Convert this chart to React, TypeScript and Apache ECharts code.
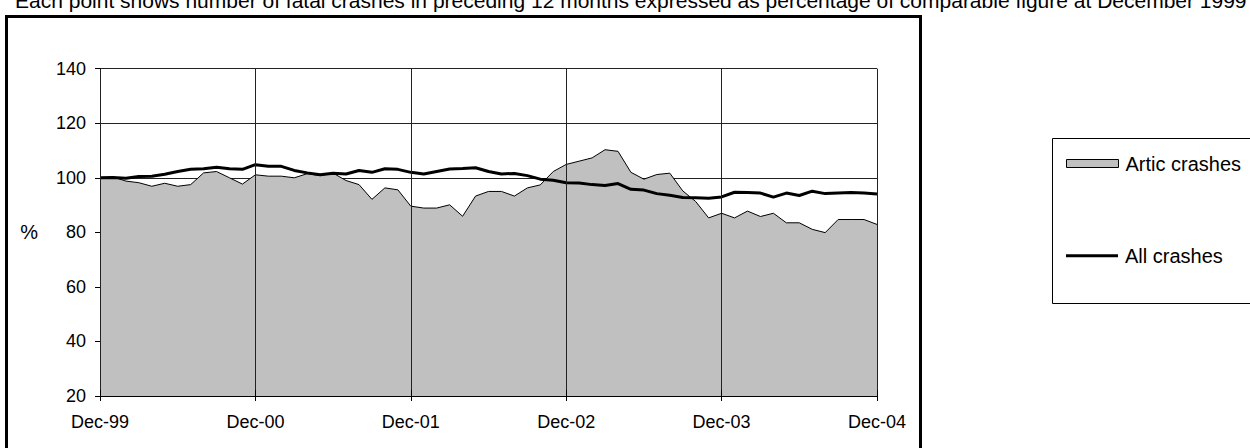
import React, { useEffect, useRef } from "react";
import * as echarts from "echarts";

const months = ["Dec","Jan","Feb","Mar","Apr","May","Jun","Jul","Aug","Sep","Oct","Nov"];
const startYear = 99;
const categories: string[] = [];
for (let i = 0; i <= 60; i++) {
  const m = i % 12;
  const y = (startYear + Math.floor((i + 11) / 12)) % 100;
  categories.push(`${months[m]}-${String(y).padStart(2, "0")}`);
}

const articCrashes = [
  100, 100.3, 98.8, 98.2, 96.9, 98.0, 96.9, 97.5, 101.8, 102.3, 100, 97.7,
  101.1, 100.6, 100.6, 100.0, 101.5, 100.8, 101.7, 99.0, 97.5, 92.1, 96.3, 95.6,
  89.6, 88.9, 88.9, 90.1, 85.9, 93.3, 95.0, 95.0, 93.3, 96.3, 97.4, 102.3,
  104.9, 106.1, 107.3, 110.3, 109.7, 102.0, 99.5, 101.2, 101.7, 95.2, 91.3, 85.3,
  87.0, 85.3, 87.8, 85.8, 87.0, 83.5, 83.5, 81.1, 79.9, 84.7, 84.7, 84.7,
  82.9,
];

const allCrashes = [
  100, 100.1, 99.8, 100.5, 100.6, 101.3, 102.3, 103.1, 103.3, 103.9, 103.3, 103.1,
  104.8, 104.2, 104.2, 102.7, 101.8, 101.1, 101.7, 101.4, 102.7, 102.0, 103.3, 103.1,
  102.0, 101.4, 102.3, 103.2, 103.4, 103.7, 102.3, 101.4, 101.6, 100.8, 99.5, 99.1,
  98.2, 98.1, 97.5, 97.2, 97.9, 95.8, 95.5, 94.2, 93.6, 92.8, 92.7, 92.5,
  93.0, 94.7, 94.6, 94.4, 92.9, 94.4, 93.5, 95.1, 94.2, 94.4, 94.6, 94.4,
  94.1,
];

const titleText =
  "Each point shows number of fatal crashes in preceding 12 months expressed as percentage of comparable figure at December 1999";

const FONT = "'Liberation Sans', Arial, sans-serif";

export default function App() {
  const ref = useRef<HTMLDivElement>(null);
  useEffect(() => {
    if (!ref.current) return;
    const chart = echarts.init(ref.current, undefined, { renderer: "svg" });
    chart.setOption({
      animation: false,
      backgroundColor: "#fff",
      textStyle: { fontFamily: FONT },
      grid: { left: 100, right: 373, top: 68.7, bottom: 52 },
      xAxis: [
        {
          type: "category",
          data: categories,
          boundaryGap: false,
          axisLine: { lineStyle: { color: "#000", width: 1 } },
          axisTick: { interval: 11, length: 5, lineStyle: { color: "#000" } },
          axisLabel: { interval: 11, color: "#000", fontSize: 18, margin: 17, fontFamily: FONT },
          splitLine: { show: true, interval: 11, lineStyle: { color: "#222", width: 1 } },
          z: 5,
        },
        {
          type: "category",
          data: categories,
          position: "bottom",
          boundaryGap: false,
          axisLine: { show: false },
          axisTick: { show: true, inside: true, interval: 11, length: 6, lineStyle: { color: "#000" } },
          axisLabel: { show: false },
          splitLine: { show: false },
          z: 5,
        },
      ],
      yAxis: {
        type: "value",
        min: 20,
        max: 140,
        interval: 20,
        name: "%",
        nameLocation: "middle",
        nameRotate: 0,
        nameGap: 62,
        nameTextStyle: { color: "#000", fontSize: 20, fontFamily: FONT },
        axisLine: { show: true, lineStyle: { color: "#000", width: 1 } },
        axisTick: { show: true, length: 5, lineStyle: { color: "#000" } },
        axisLabel: { color: "#000", fontSize: 18, margin: 14, fontFamily: FONT },
        splitLine: { show: true, lineStyle: { color: "#222", width: 1 } },
      },
      legend: [
        {
          left: 1066,
          top: 152.5,
          padding: 0,
          itemWidth: 52,
          itemHeight: 8,
          textStyle: { color: "#000", fontSize: 20, lineHeight: 22, fontFamily: FONT, padding: [0, 0, 0, 2] },
          data: [
            { name: "Artic crashes", icon: "rect", itemStyle: { color: "#c0c0c0", borderColor: "#000", borderWidth: 1 } },
          ],
        },
        {
          left: 1066,
          top: 244.7,
          padding: 0,
          itemWidth: 52,
          itemHeight: 3,
          textStyle: { color: "#000", fontSize: 20, lineHeight: 22, fontFamily: FONT, padding: [0, 0, 0, 2] },
          data: [
            { name: "All crashes", icon: "rect", itemStyle: { color: "#000", borderWidth: 0 } },
          ],
        },
      ],
      graphic: [
        {
          type: "text",
          left: 15,
          top: -10,
          style: { text: titleText, fill: "#000", fontSize: 21, fontFamily: FONT },
        },
        {
          type: "rect",
          shape: { x: 6.5, y: 16.5, width: 914, height: 500 },
          style: { fill: "none", stroke: "#000", lineWidth: 3 },
          silent: true,
        },
        {
          type: "rect",
          shape: { x: 1052.5, y: 138.5, width: 260, height: 165 },
          style: { fill: "none", stroke: "#000", lineWidth: 1 },
          silent: true,
        },
      ],
      series: [
        {
          name: "Artic crashes",
          type: "line",
          data: articCrashes,
          symbol: "none",
          color: "#c0c0c0",
          lineStyle: { color: "#000", width: 1 },
          areaStyle: { color: "#c0c0c0", opacity: 1, origin: "start" },
          z: 2,
        },
        {
          name: "All crashes",
          type: "line",
          data: allCrashes,
          symbol: "none",
          color: "#000",
          lineStyle: { color: "#000", width: 3 },
          z: 3,
        },
      ],
    });
    return () => chart.dispose();
  }, []);
  return (
    <div
      ref={ref}
      style={{ position: "fixed", left: 0, top: 0, width: 1250, height: 448 }}
    />
  );
}
